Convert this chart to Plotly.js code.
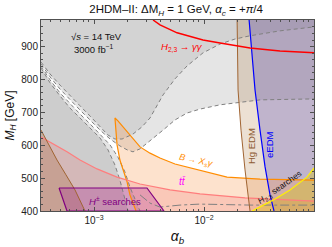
<!DOCTYPE html>
<html><head><meta charset="utf-8">
<script src="https://cdn.plot.ly/plotly-3.0.1.min.js"></script>
<style>html,body{margin:0;padding:0;background:#fff}#c{width:332px;height:247px}</style>
</head><body><div id="c"></div>
<script>
// ---- data (alpha_b, M_H [GeV]) ----
const U1_ab = [3.30e-4,3.98e-4,4.91e-4,6.05e-4,7.46e-4,9.20e-4,1.135e-3,1.34e-3,1.55e-3,1.80e-3,2.26e-3,2.73e-3,3.23e-3,3.74e-3,4.24e-3,5.45e-3,7.00e-3,9.79e-3,1.40e-2,1.91e-2,2.62e-2,4.91e-2,0.1];
const U1_M  = [853,817,783,750,720,689,656,631,619,619,634,656,683,720,753,802,841,881,908,923,933,948,960];
const U2_ab = [3.30e-4,3.98e-4,4.91e-4,6.05e-4,7.46e-4,9.20e-4,1.135e-3,1.40e-3,1.72e-3,2.00e-3,2.26e-3,2.62e-3,3.23e-3,4.24e-3,5.45e-3,7.00e-3,9.20e-3,1.40e-2,3.23e-2,0.1];
const U2_M  = [847,808,771,738,707,677,646,619,598,586,580,589,613,646,677,698,710,723,738,741];
const S2_ab = [3.30e-4,3.98e-4,4.91e-4,6.05e-4,7.46e-4,9.20e-4,1.135e-3,1.40e-3,1.65e-3,1.91e-3,2.12e-3,2.36e-3,2.62e-3];
const S2_M  = [841,799,759,726,695,665,634,601,564,519,473,433,400];
const S1_ab = [3.30e-4,3.98e-4,4.91e-4,6.05e-4,7.46e-4,9.20e-4,1.135e-3,1.34e-3,1.55e-3,1.72e-3,1.87e-3,2.04e-3];
const S1_M  = [835,790,750,713,683,653,622,586,540,494,449,400];
const DD_ab = [2.62e-3,3.23e-3,3.98e-3,6.05e-3,9.20e-3,2.62e-2,0.1];
const DD_M  = [449,424,412,418,421,418,418];
const bsg_ab = [2.41e-3,2.12e-3,2.00e-3,1.87e-3,1.72e-3,1.62e-3,1.585e-3,1.55e-3,1.65e-3,1.80e-3,2.04e-3,2.31e-3,2.62e-3,3.23e-3,3.98e-3,5.45e-3,7.46e-3,1.135e-2,1.62e-2,3.23e-2,0.1];
const bsg_M  = [400,449,488,519,555,601,646,683,674,659,637,616,595,576,561,543,531,516,503,497,494];
const tt_ab = [3.30e-4,4.42e-4,5.68e-4,7.46e-4,1.065e-3,1.62e-3,2.62e-3,4.91e-3,9.20e-3,2.36e-2,0.1];
const tt_M  = [625,601,580,555,528,503,482,464,452,440,430];
const brn_ab = [3.30e-4,3.82e-4,4.61e-4,5.56e-4,6.72e-4,8.28e-4];
const brn_M  = [646,607,555,510,464,400];
const hg_ab = [2.00e-2,2.04e-2,2.17e-2,2.36e-2,2.62e-2];
const hg_M  = [981,768,646,525,400];
const ee_ab = [2.57e-2,2.91e-2,3.23e-2,3.59e-2,3.98e-2,4.33e-2];
const ee_M  = [981,768,646,534,449,400];
const h23_ab = [2.73e-2,4.24e-2,6.05e-2,8.64e-2,0.1];
const h23_M  = [400,433,464,503,531];
const gg_ab = [3.44e-3,3.98e-3,5.69e-3,9.79e-3,1.40e-2,2.62e-2,4.91e-2,0.1];
const gg_M  = [981,966,942,920,911,896,887,881];
const hpm_ab = [4.81e-4,3.03e-3,4.33e-3,5.68e-4];
const hpm_M  = [470,470,400,400];
const xTickVals = [1e-3,1e-2];
const xTickText = ['10<sup>\u22123</sup>','10<sup>\u22122</sup>'];

// axis limits and closing values beyond them
const XR = [-3.482,-1.0], YR = [400,981];
const XLO = 2.5e-4, XHI = 0.13, YLO = 380, YHI = 1010;

const last = a => a[a.length-1];
function fillTrace(x, y, color){
  return {x:x, y:y, type:'scatter', mode:'lines', fill:'toself', fillcolor:color, line:{width:0}, hoverinfo:'skip'};
}
function lineTrace(x, y, color, width, dash){
  return {x:x, y:y, type:'scatter', mode:'lines', line:{color:color, width:width, dash:dash||'solid'}, hoverinfo:'skip'};
}
const above = (xs, ys) => [xs.concat([XHI,XHI,XLO,XLO]), ys.concat([last(ys),YHI,YHI,ys[0]])];
const leftOf = (xs, ys) => [xs.concat([last(xs),XLO,XLO]), ys.concat([YLO,YLO,ys[0]])];

const traces = [];
let p;
p = above(U2_ab,U2_M); traces.push(fillTrace(p[0],p[1],'rgba(0,0,0,0.10)'));
p = above(U1_ab,U1_M); traces.push(fillTrace(p[0],p[1],'rgba(0,0,0,0.08)'));
p = leftOf(S2_ab,S2_M); traces.push(fillTrace(p[0],p[1],'rgba(0,0,0,0.10)'));
p = leftOf(S1_ab,S1_M); traces.push(fillTrace(p[0],p[1],'rgba(0,0,0,0.10)'));
// Hg EDM
traces.push(fillTrace(hg_ab.concat([last(hg_ab),XHI,XHI,hg_ab[0]]), hg_M.concat([YLO,YLO,YHI,YHI]), 'rgba(180,130,80,0.25)'));
// eEDM
traces.push(fillTrace(ee_ab.concat([last(ee_ab),XHI,XHI,ee_ab[0]]), ee_M.concat([YLO,YLO,YHI,YHI]), 'rgba(90,80,190,0.30)'));
// B -> Xs gamma
traces.push(fillTrace(bsg_ab.concat([XHI,XHI,bsg_ab[0]]), bsg_M.concat([last(bsg_M),YLO,YLO]), 'rgba(250,160,90,0.30)'));
// ttbar
traces.push(fillTrace(tt_ab.concat([XHI,XHI,XLO,XLO]), tt_M.concat([last(tt_M),YLO,YLO,tt_M[0]]), 'rgba(240,100,100,0.20)'));
// brown left
traces.push(fillTrace(brn_ab.concat([last(brn_ab),XLO,XLO]), brn_M.concat([YLO,YLO,brn_M[0]]), 'rgba(160,90,40,0.25)'));
// H+- searches
traces.push(fillTrace(hpm_ab, hpm_M, 'rgba(150,0,150,0.22)'));
// H2,3 searches
traces.push(fillTrace(h23_ab.concat([XHI,XHI,h23_ab[0]]), h23_M.concat([last(h23_M),YLO,YLO]), 'rgba(215,195,20,0.38)'));

// lines
const dg = 'rgb(128,128,128)';
traces.push(lineTrace(U1_ab,U1_M,dg,1,'4px,3px'));
traces.push(lineTrace(U2_ab,U2_M,dg,1,'4px,3px'));
traces.push(lineTrace(S2_ab,S2_M,dg,1,'4px,3px'));
traces.push(lineTrace(S1_ab,S1_M,dg,1,'4px,3px'));
traces.push(lineTrace(DD_ab,DD_M,dg,1,'dashdot'));
traces.push(lineTrace(bsg_ab,bsg_M,'rgb(255,140,0)',1.2));
traces.push(lineTrace(tt_ab,tt_M,'rgb(255,125,125)',1.2));
traces.push(lineTrace(brn_ab,brn_M,'rgb(160,100,50)',1));
traces.push(lineTrace(hg_ab,hg_M,'rgb(160,100,50)',1));
traces.push(lineTrace(ee_ab,ee_M,'rgb(0,0,255)',1.2));
traces.push(lineTrace(h23_ab,h23_M,'rgb(255,240,0)',1.2));
traces.push(lineTrace(gg_ab,gg_M,'rgb(255,0,0)',1.5));
traces.push(lineTrace(hpm_ab.concat([hpm_ab[0]]),hpm_M.concat([hpm_M[0]]),'rgb(128,0,128)',1.2));

const minorX = [];
for (let e=-4; e<=-1; e++) for (let m=2; m<=9; m++) minorX.push(m*Math.pow(10,e));

const F = 'Liberation Sans, Arial, sans-serif';
function ann(text, x, y, color, size, angle){
  return {text:text, x:x, y:y, xref:'paper', yref:'paper', showarrow:false, textangle:angle||0,
          font:{family:F, size:size, color:color}, xanchor:'center', yanchor:'middle'};
}
const layout = {
  width:332, height:247, margin:{l:41, r:18, t:20, b:36},
  paper_bgcolor:'#fff', plot_bgcolor:'#fff', showlegend:false,
  font:{family:F, size:10, color:'#222'},
  title:{text:'2HDM\u2013II: \u0394M<sub><i>H</i></sub> = 1 GeV, <i>\u03b1<sub>c</sub></i> = +<i>\u03c0</i>/4',
         x:0.495, xref:'paper', xanchor:'center', y:0.962, yref:'container', yanchor:'middle',
         font:{family:F, size:11.5, color:'#111'}},
  xaxis:{type:'log', range:XR, showgrid:false, zeroline:false, showline:true, linecolor:'rgb(80,80,80)', linewidth:1,
         mirror:'allticks', ticks:'inside', ticklen:4, tickcolor:'rgb(80,80,80)', tickmode:'array',
         tickvals:xTickVals, ticktext:xTickText, tickfont:{size:10, color:'#222'},
         minor:{tickmode:'array', tickvals:minorX, ticks:'inside', ticklen:2, tickcolor:'rgb(80,80,80)'},
         title:{text:'<i>\u03b1<sub>b</sub></i>', font:{size:14, color:'#111'}, standoff:6}},
  yaxis:{range:YR, showgrid:false, zeroline:false, showline:true, linecolor:'rgb(80,80,80)', linewidth:1,
         mirror:'allticks', ticks:'inside', ticklen:4, tickcolor:'rgb(80,80,80)', tickvals:[400,500,600,700,800,900],
         tickfont:{size:10, color:'#222'},
         minor:{dtick:20, ticks:'inside', ticklen:2, tickcolor:'rgb(80,80,80)'},
         title:{text:'<i>M<sub>H</sub></i> [GeV]', font:{size:12, color:'#111'}, standoff:4}},
  annotations:[
    ann('\u221a<i>s</i> = 14 TeV', 0.205, 0.916, '#111', 9.5),
    ann('3000 fb<sup>\u22121</sup>', 0.194, 0.848, '#111', 9.5),
    ann('<i>H</i><sub>2,3</sub> \u2192 <i>\u03b3\u03b3</i>', 0.516, 0.859, 'rgb(255,0,0)', 9.5),
    ann('<i>B</i> \u2192 <i>X<sub>s</sub>\u03b3</i>', 0.568, 0.267, 'rgb(255,140,0)', 9, 12),
    ann('<i>tt\u0304</i>', 0.520, 0.152, 'rgb(255,0,255)', 10),
    ann('<i>H</i><sup>\u00b1</sup> searches', 0.271, 0.052, 'rgb(128,0,128)', 9.5),
    ann('Hg EDM', 0.769, 0.340, 'rgb(140,90,50)', 9.5, -90),
    ann('eEDM', 0.839, 0.346, 'rgb(0,0,255)', 9.5, -90),
    ann('<i>H</i><sub>2,3</sub> searches', 0.875, 0.125, '#111', 8.5, -35)
  ]
};
Plotly.newPlot('c', traces, layout, {staticPlot:true, displayModeBar:false});
</script></body></html>
